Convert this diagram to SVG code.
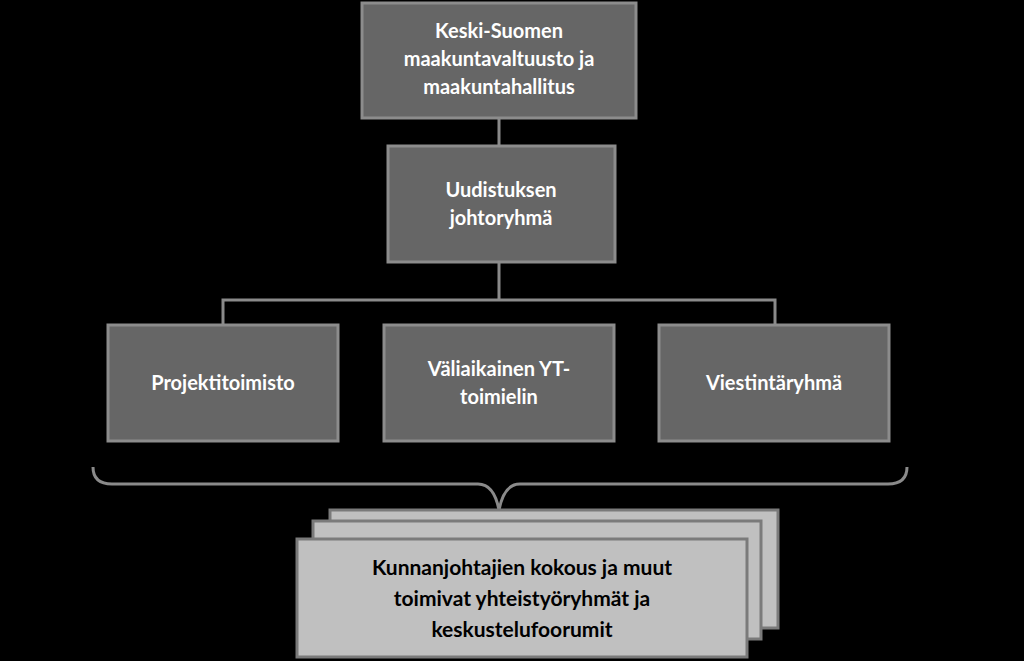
<svg xmlns="http://www.w3.org/2000/svg" width="1024" height="661" viewBox="0 0 1024 661">
<style>
.d{fill:#666;stroke:#8c8c8c;stroke-width:3}
.l{fill:#c0c0c0;stroke:#7a7a7a;stroke-width:3}
.tw{font-family:Lato,"Liberation Sans",sans-serif;font-weight:bold;font-size:20px;fill:#fff;text-anchor:middle}
.tb{font-family:Lato,"Liberation Sans",sans-serif;font-weight:bold;font-size:21px;fill:#000;text-anchor:middle}
.c{fill:none;stroke:#8a8a8a;stroke-width:3}
</style>
<rect width="1024" height="661" fill="#000"/>
<g id="connectors">
<path class="c" d="M499 118V145M499 262V300M223 325V300H775V325"/>
<path class="c" d="M93 467Q93 484 112 484H478Q494 484 499 510Q504 484 520 484H888Q907 484 907 467" stroke-width="4"/>
</g>
<g id="n1"><rect class="d" x="362" y="3" width="274" height="115"/>
<text class="tw" x="499" y="38">Keski-Suomen</text><text class="tw" x="499" y="66">maakuntavaltuusto ja</text><text class="tw" x="499" y="94">maakuntahallitus</text></g>
<g id="n2"><rect class="d" x="388" y="146" width="227" height="116"/>
<text class="tw" x="501" y="197">Uudistuksen</text><text class="tw" x="501" y="225">johtoryhmä</text></g>
<g id="n3"><rect class="d" x="108" y="325" width="230" height="116"/>
<text class="tw" x="223" y="390">Projektitoimisto</text></g>
<g id="n4"><rect class="d" x="384" y="325" width="230" height="116"/>
<text class="tw" x="499" y="376">Väliaikainen YT-</text><text class="tw" x="499" y="404">toimielin</text></g>
<g id="n5"><rect class="d" x="659" y="325" width="230" height="116"/>
<text class="tw" x="774" y="390">Viestintäryhmä</text></g>
<g id="n6">
<rect class="l" x="330" y="510" width="448" height="118"/>
<rect class="l" x="313" y="521" width="448" height="118"/>
<rect class="l" x="297" y="539" width="450" height="118"/>
<text class="tb" x="522" y="575">Kunnanjohtajien kokous ja muut</text>
<text class="tb" x="522" y="606">toimivat yhteistyöryhmät ja</text>
<text class="tb" x="522" y="637">keskustelufoorumit</text>
</g>
</svg>
